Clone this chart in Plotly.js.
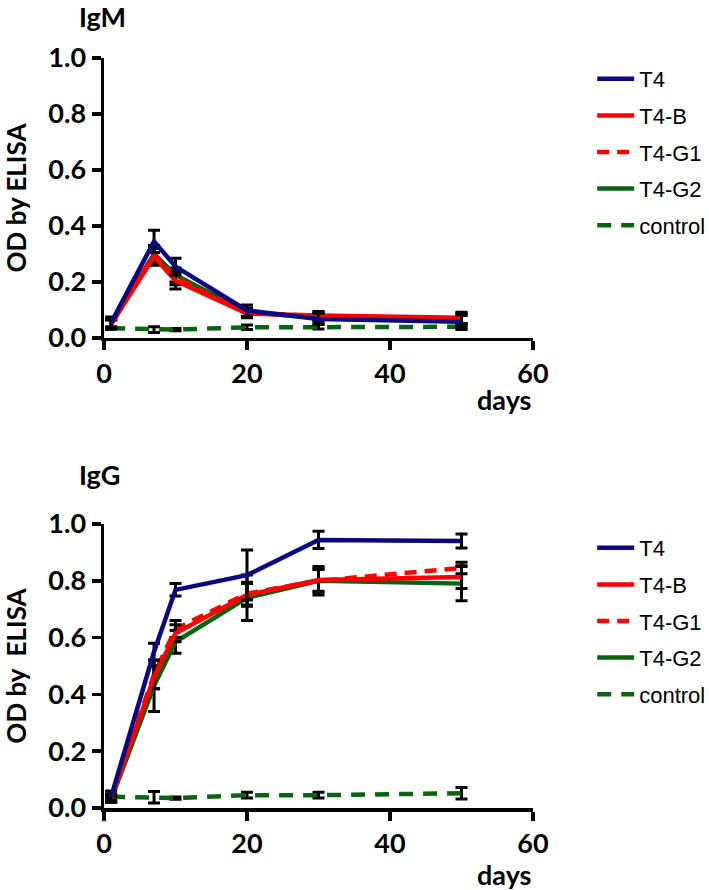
<!DOCTYPE html>
<html>
<head>
<meta charset="utf-8">
<script src="https://cdn.plot.ly/plotly-3.0.1.min.js"></script>
<style>
  body { margin:0; padding:0; background:#ffffff; }
  #myDiv { width:709px; height:890px; }
</style>
</head>
<body>
<div id="myDiv"></div>
<script>
/***
   elisa_plotly - IgM / IgG OD by ELISA over days
***/

let days = [1, 7, 10, 20, 30, 50];

// IgM panel
let igm_T4     = [0.055, 0.345, 0.255, 0.098, 0.068, 0.058];
let igm_T4_err = [0.020, 0.040, 0.030, 0.020, 0.020, 0.025];
let igm_B      = [0.050, 0.290, 0.205, 0.087, 0.080, 0.072];
let igm_B_err  = [0.015, 0.030, 0.030, 0.015, 0.015, 0.020];
let igm_G1     = [0.050, 0.300, 0.215, 0.090, 0.078, 0.068];
let igm_G1_err = [0.015, 0.030, 0.025, 0.015, 0.015, 0.020];
let igm_G2     = [0.050, 0.300, 0.225, 0.092, 0.072, 0.060];
let igm_G2_err = [0.015, 0.030, 0.025, 0.015, 0.015, 0.020];
let igm_C      = [0.035, 0.030, 0.030, 0.038, 0.040, 0.040];
let igm_C_err  = [0.005, 0.010, 0.004, 0.008, 0.008, 0.010];

// IgG panel
let igg_T4     = [0.040, 0.550, 0.768, 0.820, 0.944, 0.940];
let igg_T4_err = [0.020, 0.030, 0.022, 0.088, 0.030, 0.025];
let igg_B      = [0.035, 0.460, 0.615, 0.750, 0.803, 0.813];
let igg_B_err  = [0.010, 0.040, 0.030, 0.040, 0.040, 0.040];
let igg_G1     = [0.035, 0.470, 0.630, 0.755, 0.800, 0.845];
let igg_G1_err = [0.010, 0.050, 0.030, 0.040, 0.050, 0.020];
let igg_G2     = [0.030, 0.430, 0.585, 0.740, 0.800, 0.790];
let igg_G2_err = [0.010, 0.090, 0.040, 0.080, 0.040, 0.060];
let igg_C      = [0.040, 0.038, 0.035, 0.045, 0.045, 0.052];
let igg_C_err  = [0.010, 0.020, 0.004, 0.010, 0.010, 0.020];

let series_names = ['T4', 'T4-B', 'T4-G1', 'T4-G2', 'control'];
let series_colors = ['#0a0a80', '#ff0000', '#ff0000', '#0a640f', '#0a640f'];
let series_dash = ['solid', 'solid', '12px,8px', 'solid', '14px,10px'];

function make_trace(idx, y, err, xa, ya, lg) {
  return { x: days,
           y: y,
           xaxis: xa,
           yaxis: ya,
           name: series_names[idx],
           legend: lg,
           legendgroup: lg+'_'+idx,
           legendrank: idx+1,
           mode: 'lines',
           type: 'scatter',
           line: { color: series_colors[idx], width: 4.5, dash: series_dash[idx] },
           error_y: {
                 type: 'data',
                 array: err,
                 visible: true,
                 color: '#000000',
                 thickness: 3,
                 width: 6
           },
           hoverinfo: 'x+y+name' };
}

let top_sets = [ [igm_T4,igm_T4_err], [igm_B,igm_B_err], [igm_G1,igm_G1_err], [igm_G2,igm_G2_err], [igm_C,igm_C_err] ];
let bot_sets = [ [igg_T4,igg_T4_err], [igg_B,igg_B_err], [igg_G1,igg_G1_err], [igg_G2,igg_G2_err], [igg_C,igg_C_err] ];

let data = [];
// add in reverse so T4 is drawn on top, legendrank keeps legend order
for(let i=series_names.length-1; i>=0; i--) {
  data.push(make_trace(i, top_sets[i][0], top_sets[i][1], 'x', 'y', 'legend'));
}
for(let i=series_names.length-1; i>=0; i--) {
  data.push(make_trace(i, bot_sets[i][0], bot_sets[i][1], 'x2', 'y2', 'legend2'));
}

let tick_font = { family: 'Lato', size: 27, color: '#000000', weight: 'bold' };
let title_font = { family: 'Lato', size: 26, color: '#000000', weight: 'bold' };
let leg_font = { family: 'Liberation Sans', size: 22, color: '#000000' };

function make_xaxis(anchor) {
  return {
    anchor: anchor,
    domain: [0, 1],
    range: [0, 60],
    tickvals: [0, 20, 40, 60],
    ticktext: ['0', '20', '40', '60'],
    tickfont: tick_font,
    showgrid: false,
    zeroline: false,
    showline: true,
    linecolor: '#000000',
    linewidth: 3.5,
    ticks: 'outside',
    ticklen: 9,
    tickwidth: 3.5,
    tickcolor: '#000000' };
}

function make_yaxis(anchor, dom, ttl) {
  return {
    anchor: anchor,
    domain: dom,
    range: [0, 1],
    tickvals: [0, 0.2, 0.4, 0.6, 0.8, 1.0],
    ticktext: ['0.0', '0.2', '0.4', '0.6', '0.8', '1.0'],
    tickfont: tick_font,
    title: { text: ttl, font: title_font, standoff: 20 },
    showgrid: false,
    zeroline: false,
    showline: true,
    linecolor: '#000000',
    linewidth: 3.5,
    ticks: 'outside',
    ticklen: 9,
    tickwidth: 3.5,
    tickcolor: '#000000' };
}

let legend_base = {
  font: leg_font,
  bgcolor: 'rgba(0,0,0,0)',
  traceorder: 'grouped',
  tracegroupgap: 5,
  itemwidth: 37,
  xanchor: 'left',
  yanchor: 'top'
};

let layout = {
  width: 709,
  height: 890,
  paper_bgcolor: '#ffffff',
  plot_bgcolor: '#ffffff',
  margin: { l:104, r:176, t:58, b:82, autoexpand: false },
  showlegend: true,
  xaxis: make_xaxis('y'),
  yaxis: make_yaxis('x', [0.6267, 1], 'OD by ELISA'),
  xaxis2: make_xaxis('y2'),
  yaxis2: make_yaxis('x2', [0, 0.3787], 'OD by  ELISA'),
  legend: Object.assign({}, legend_base, { x: 1.138, y: 1.0 }),
  legend2: Object.assign({}, legend_base, { x: 1.138, y: 0.3747 }),
  annotations: [
    { text: 'IgM', xref: 'paper', yref: 'paper', x: -0.062, y: 1.055, xanchor: 'left', yanchor: 'middle',
      showarrow: false, font: { family: 'Lato', size: 27, color: '#000000', weight: 'bold' } },
    { text: 'IgG', xref: 'paper', yref: 'paper', x: -0.062, y: 0.445, xanchor: 'left', yanchor: 'middle',
      showarrow: false, font: { family: 'Lato', size: 27, color: '#000000', weight: 'bold' } },
    { text: 'days', xref: 'x domain', yref: 'y domain', x: 1.0, y: -0.22, xanchor: 'right', yanchor: 'middle',
      showarrow: false, font: { family: 'Lato', size: 27, color: '#000000', weight: 'bold' } },
    { text: 'days', xref: 'x2 domain', yref: 'y2 domain', x: 1.0, y: -0.235, xanchor: 'right', yanchor: 'middle',
      showarrow: false, font: { family: 'Lato', size: 27, color: '#000000', weight: 'bold' } }
  ]
};

let config = { displayModeBar: false, staticPlot: true };

Plotly.newPlot('myDiv', data, layout, config);
window.console.log("plot done");
</script>
</body>
</html>
